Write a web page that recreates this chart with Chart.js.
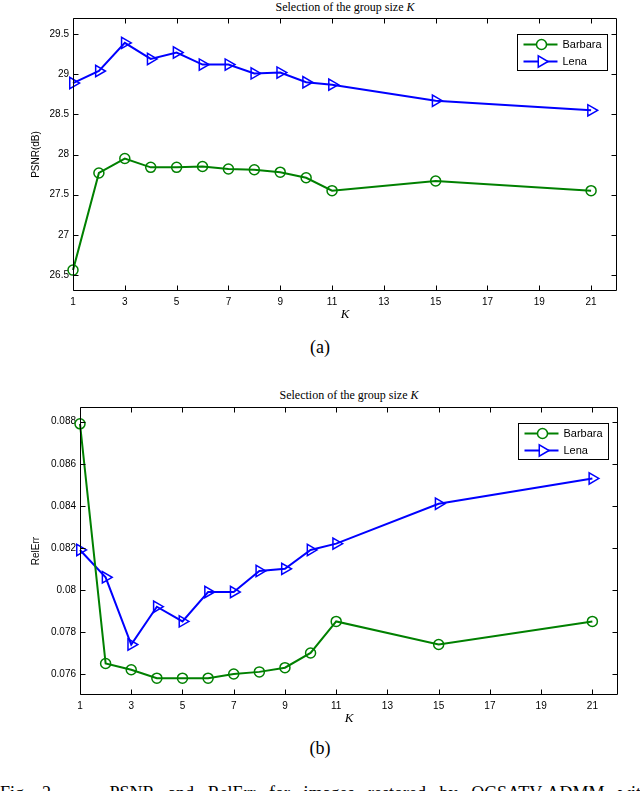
<!DOCTYPE html>
<html>
<head>
<meta charset="utf-8">
<script src="https://cdn.jsdelivr.net/npm/chart.js@4.4.1/dist/chart.umd.min.js"></script>
<style>
  body { margin: 0; background: #fff; }
  #wrap { position: relative; width: 640px; height: 791px; overflow: hidden; }
  canvas { position: absolute; left: 0; }
  .ttl { position: absolute; text-align: center; font: 12px "Liberation Serif", serif; line-height: 14px; color: #000; }
  .cap { position: absolute; left: 0; width: 640px; text-align: center; font: 18px "Liberation Serif", serif; line-height: 22px; color: #000; }
  .fig { position: absolute; left: 0; width: 650px; top: 782px; font: 18px "Liberation Serif", serif; line-height: 22px; text-align: justify; text-align-last: justify; white-space: nowrap; }
</style>
</head>
<body>
<div id="wrap">
  <div class="ttl" style="left:73px;width:544px;top:0px">Selection of the group size <i>K</i></div>
  <canvas id="psnrChart" width="640" height="330" style="top:0px"></canvas>
  <div class="cap" style="top:336px">(a)</div>

  <div class="ttl" style="left:80px;width:538px;top:388px">Selection of the group size <i>K</i></div>
  <canvas id="relErrChart" width="640" height="345" style="top:385px"></canvas>
  <div class="cap" style="top:737px">(b)</div>

  <div class="fig">Fig. 2.&nbsp;&nbsp;&nbsp; PSNR and RelErr for images restored by OGSATV-ADMM with</div>
</div>
<script>
// group sizes K on the x axis
var kValues = [1, 2, 3, 4, 5, 6, 7, 8, 9, 10, 11, 15, 21];
var kTicks = [1, 3, 5, 7, 9, 11, 13, 15, 17, 19, 21];

// (a) PSNR in dB
var psnrBarbara = [26.56, 27.77, 27.95, 27.84, 27.84, 27.85, 27.82, 27.81, 27.78, 27.71, 27.55, 27.67, 27.55];
var psnrLena    = [28.89, 29.04, 29.39, 29.19, 29.27, 29.12, 29.12, 29.01, 29.02, 28.90, 28.87, 28.67, 28.55];
var psnrTicks = [26.5, 27, 27.5, 28, 28.5, 29, 29.5];

// (b) relative error
var relErrBarbara = [0.0879, 0.0765, 0.0762, 0.0758, 0.0758, 0.0758, 0.0760, 0.0761, 0.0763, 0.0770, 0.0785, 0.0774, 0.0785];
var relErrLena    = [0.0819, 0.0806, 0.0774, 0.0792, 0.0785, 0.0799, 0.0799, 0.0809, 0.0810, 0.0819, 0.0822, 0.0841, 0.0853];
var relErrTicks = [0.076, 0.078, 0.08, 0.082, 0.084, 0.086, 0.088];

var seriesNames = ['Barbara', 'Lena'];
var GREEN = '#008000';
var BLUE = '#0000ff';

function toPoints(ys) {
  return kValues.map(function(k, i){ return {x: k, y: ys[i]}; });
}

// matlab style box with ticks pointing inwards + legend inside the axes
var boxPlugin = {
  id: 'boxPlugin',
  afterDatasetsDraw: function(chart){
    var ctx = chart.ctx, a = chart.chartArea;
    var x = chart.scales.x, y = chart.scales.y;
    var L = Math.round(a.left) + 0.5, R = Math.round(a.right) - 0.5;
    var T = Math.round(a.top) + 0.5, B = Math.round(a.bottom) - 0.5;
    ctx.save();
    ctx.strokeStyle = '#000';
    ctx.lineWidth = 1;
    ctx.beginPath();
    ctx.rect(L, T, R - L, B - T);
    x.ticks.forEach(function(t){
      var px = Math.round(x.getPixelForValue(t.value)) + 0.5;
      ctx.moveTo(px, B); ctx.lineTo(px, B - 5);
      ctx.moveTo(px, T); ctx.lineTo(px, T + 5);
    });
    y.ticks.forEach(function(t){
      var py = Math.round(y.getPixelForValue(t.value)) + 0.5;
      ctx.moveTo(L, py); ctx.lineTo(L + 5, py);
      ctx.moveTo(R, py); ctx.lineTo(R - 5, py);
    });
    ctx.stroke();

    // legend
    var lx = Math.round(a.right) - 99.5, ly = Math.round(a.top) + 16.5;
    ctx.fillStyle = '#fff';
    ctx.fillRect(lx, ly, 90, 36);
    ctx.strokeRect(lx, ly, 90, 36);
    ctx.font = '11px "Liberation Sans", sans-serif';
    ctx.textBaseline = 'middle';
    chart.data.datasets.forEach(function(ds, i){
      var ry = ly + 10 + i * 17;
      ctx.strokeStyle = ds.borderColor;
      ctx.lineWidth = 2;
      ctx.beginPath();
      ctx.moveTo(lx + 6, ry); ctx.lineTo(lx + 40, ry);
      ctx.stroke();
      ctx.lineWidth = 1.5;
      ctx.fillStyle = '#fff';
      Chart.helpers.drawPoint(ctx, {
        pointStyle: ds.pointStyle, radius: ds.pointRadius,
        rotation: ds.pointRotation || 0, borderWidth: 1.5
      }, lx + 24, ry);
      ctx.fillStyle = '#000';
      ctx.fillText(ds.label, lx + 45, ry);
    });
    ctx.restore();
  }
};

function makeChart(id, barbara, lena, yTicks, yMin, yMax, yTitle, lay) {
  return new Chart(document.getElementById(id), {
    type: 'line',
    data: {
      datasets: [
        {
          label: seriesNames[0], data: toPoints(barbara),
          borderColor: GREEN, borderWidth: 2,
          pointStyle: 'circle', pointRadius: 5, pointBorderWidth: 1.5,
          pointBackgroundColor: 'rgba(0,0,0,0)', pointBorderColor: GREEN,
          clip: false
        },
        {
          label: seriesNames[1], data: toPoints(lena),
          borderColor: BLUE, borderWidth: 2,
          pointStyle: 'triangle', pointRotation: 90, pointRadius: 6.5, pointBorderWidth: 1.5,
          pointBackgroundColor: 'rgba(0,0,0,0)', pointBorderColor: BLUE,
          clip: false
        }
      ]
    },
    options: {
      responsive: false,
      animation: false,
      layout: { padding: { top: lay.top, right: lay.right, left: 0, bottom: 0 } },
      plugins: { legend: { display: false }, tooltip: { enabled: false } },
      scales: {
        x: {
          type: 'linear', min: 1, max: 22,
          afterFit: function(s){ s.height = lay.xHeight; },
          afterBuildTicks: function(s){ s.ticks = kTicks.map(function(v){ return {value: v}; }); },
          grid: { display: false, drawTicks: false },
          border: { display: false },
          ticks: { color: '#000', padding: 5, maxRotation: 0, autoSkip: false,
                   font: { family: '"Liberation Sans", sans-serif', size: 10 } },
          title: { display: true, text: 'K', color: '#000',
                   padding: { top: 0, bottom: lay.kPad },
                   font: { family: '"Liberation Serif", serif', size: 13, style: 'italic' } }
        },
        y: {
          type: 'linear', min: yMin, max: yMax,
          afterFit: function(s){ s.width = lay.yWidth; },
          afterBuildTicks: function(s){ s.ticks = yTicks.map(function(v){ return {value: v}; }); },
          grid: { display: false, drawTicks: false },
          border: { display: false },
          ticks: { color: '#000', padding: 4, autoSkip: false,
                   callback: function(v){ return String(v); },
                   font: { family: '"Liberation Sans", sans-serif', size: 10 } },
          title: { display: true, text: yTitle, color: '#000',
                   padding: { top: 30, bottom: 0 },
                   font: { family: '"Liberation Sans", sans-serif', size: 10 } }
        }
      }
    },
    plugins: [boxPlugin]
  });
}

makeChart('psnrChart', psnrBarbara, psnrLena, psnrTicks, 26.3, 29.7, 'PSNR(dB)',
  { top: 18, right: 23, yWidth: 73, xHeight: 39, kPad: 8 });
makeChart('relErrChart', relErrBarbara, relErrLena, relErrTicks, 0.075, 0.0887, 'RelErr',
  { top: 22, right: 22, yWidth: 80, xHeight: 35, kPad: 4 });
</script>
</body>
</html>
